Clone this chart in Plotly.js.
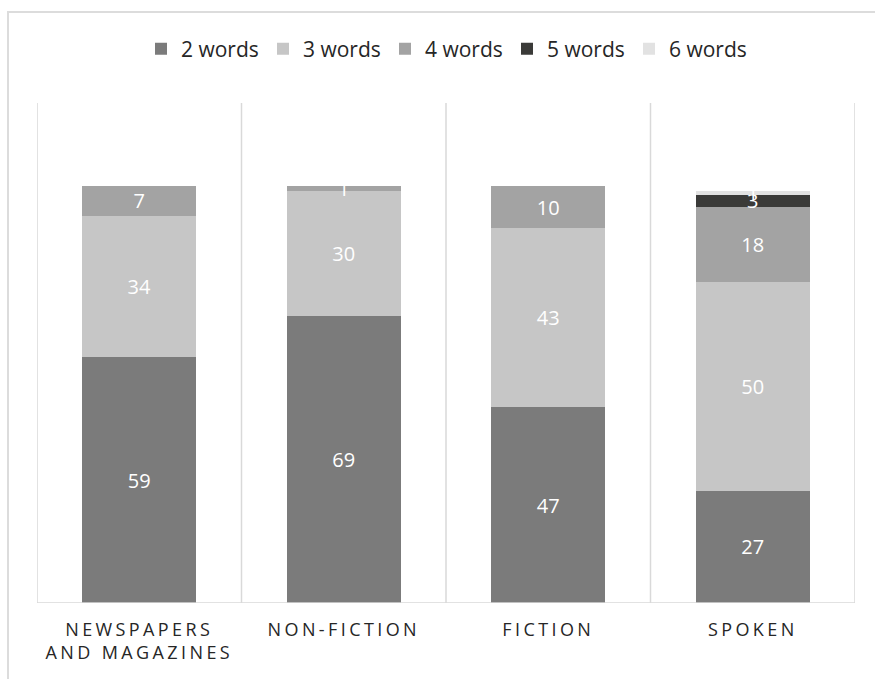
<!DOCTYPE html>
<html>
<head>
<meta charset="utf-8">
<script src="https://cdn.plot.ly/plotly-3.0.1.min.js"></script>
<style>
  html, body { margin: 0; padding: 0; background: #fff; }
  #wrap { position: relative; width: 875px; height: 679px; overflow: hidden; }
  #chart { width: 875px; height: 679px; }
  #frame { position: absolute; left: 7px; top: 11px; width: 900px; height: 700px;
           border-left: 2px solid #dcdcdc; border-top: 2px solid #dcdcdc; pointer-events: none; }
  .xtick text { letter-spacing: 3.4px; }
</style>
</head>
<body>
<div id="wrap">
  <div id="chart"></div>
  <div id="frame"></div>
</div>
<script>
const categories = ['NEWSPAPERS<br>AND MAGAZINES', 'NON-FICTION', 'FICTION', 'SPOKEN'];
const seriesNames = ['2 words', '3 words', '4 words', '5 words', '6 words'];
const words2 = [59, 69, 47, 27];
const words3 = [34, 30, 43, 50];
const words4 = [7, 1, 10, 18];
const words5 = [0, 0, 0, 3];
const words6 = [0, 0, 0, 1];
const colors = ['#7b7b7b', '#c6c6c6', '#a3a3a3', '#3a3a38', '#e2e2e2'];

const allSeries = [words2, words3, words4, words5, words6];
const font = '"Open Sans", "Liberation Sans", sans-serif';

const traces = allSeries.map((vals, i) => ({
  type: 'bar',
  name: seriesNames[i],
  x: categories,
  y: vals,
  text: vals.map(v => v > 0 ? String(v) : ''),
  textposition: 'inside',
  insidetextanchor: 'middle',
  textangle: 0,
  constraintext: 'none',
  textfont: { family: font, size: 20, color: '#ffffff' },
  marker: { color: colors[i], line: { width: 0 } },
  hoverinfo: 'none',
  cliponaxis: false
}));

const shapes = [];
for (let k = 0; k <= categories.length; k++) {
  shapes.push({
    type: 'line', layer: 'below', xref: 'x', yref: 'paper',
    x0: k - 0.5, x1: k - 0.5, y0: 0, y1: 1,
    line: { color: '#d9d9d9', width: 1.5 }
  });
}
shapes.push({
  type: 'line', layer: 'above', xref: 'paper', yref: 'y',
  x0: 0, x1: 1, y0: 0, y1: 0,
  line: { color: '#d9d9d9', width: 1.5 }
});

const layout = {
  width: 875, height: 679,
  margin: { l: 37, r: 20, t: 103, b: 76 },
  barmode: 'stack',
  bargap: 0.443,
  paper_bgcolor: '#ffffff',
  plot_bgcolor: '#ffffff',
  showlegend: true,
  legend: {
    orientation: 'h', x: 0.5, xanchor: 'center', y: 1.108, yanchor: 'middle',
    font: { family: font, size: 21, color: '#262626' },
    itemwidth: 30, traceorder: 'normal', entrywidth: 77
  },
  xaxis: {
    type: 'category', range: [-0.5, 3.5],
    showgrid: false, zeroline: false, showline: false, ticks: '',
    tickfont: { family: font, size: 18, color: '#262626' },
    ticklabelstandoff: 14
  },
  yaxis: {
    range: [0, 120], showgrid: false, zeroline: false, showline: false,
    showticklabels: false, ticks: ''
  },
  shapes: shapes
};

Plotly.newPlot('chart', traces, layout, { displayModeBar: false, staticPlot: true });
</script>
</body>
</html>
